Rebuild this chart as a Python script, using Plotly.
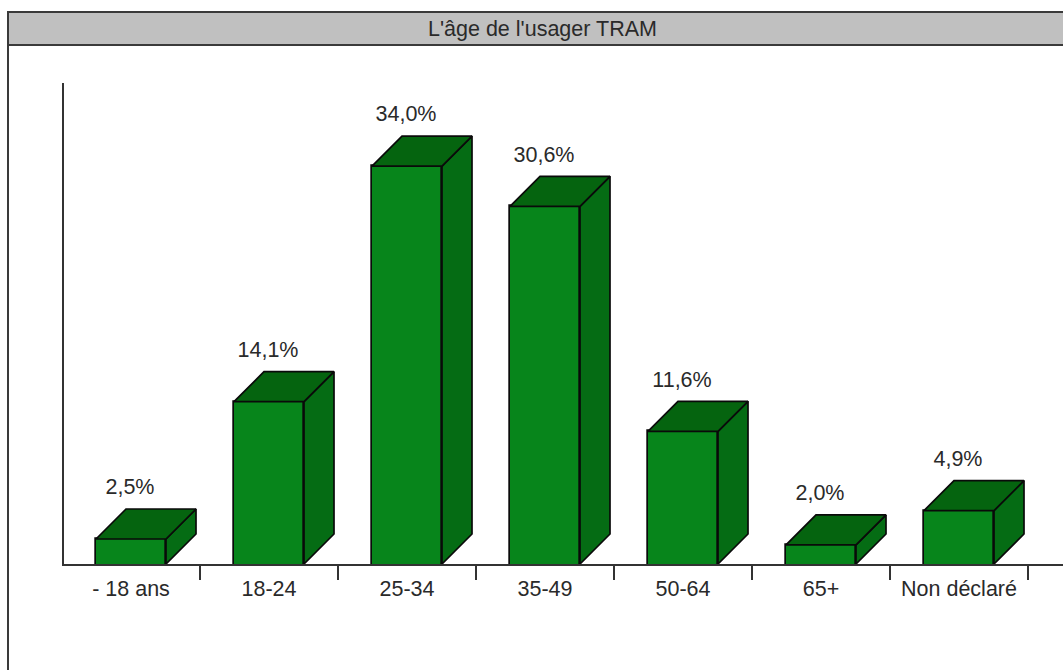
import plotly.graph_objects as go

categories = ["- 18 ans", "18-24", "25-34", "35-49", "50-64", "65+", "Non déclaré"]
values = [2.5, 14.1, 34.0, 30.6, 11.6, 2.0, 4.9]
title_text = "L'âge de l'usager TRAM"

W, H = 1063, 670
L, T, B = 64, 83, 106
CAT_PX = 138.0
Y_MIN, Y_MAX = 0.39, 41.02
PX_PER_UNIT = (H - T - B) / (Y_MAX - Y_MIN)
BAR_W = 70 / CAT_PX
DX = 30 / CAT_PX
DY = 30 / PX_PER_UNIT
LABEL_GAP = 20 / PX_PER_UNIT
LABEL_SHIFT = -1 / CAT_PX
X_MIN = -0.5 + 2 / CAT_PX
X_MAX = X_MIN + (W - L) / CAT_PX

FRONT, TOP_C, SIDE = "#07851b", "#05640f", "#056c14"
EDGE = "#0a0a0a"
INK = "#2a2a2a"
FONT = "Liberation Sans"
TEXT_SIZE = 21.5

xs = list(range(len(categories)))
side_x, side_y, top_x, top_y = [], [], [], []
for i, v in zip(xs, values):
    r = i + BAR_W / 2
    l = i - BAR_W / 2
    side_x += [r, r + DX, r + DX, r, r, None]
    side_y += [Y_MIN, Y_MIN + DY, v + DY, v, Y_MIN, None]
    top_x += [l, l + DX, r + DX, r, l, None]
    top_y += [v, v + DY, v + DY, v, v, None]

fig = go.Figure()
poly = dict(mode="lines", line=dict(color=EDGE, width=1.7), fill="toself", hoverinfo="skip", showlegend=False)
fig.add_trace(go.Scatter(x=side_x, y=side_y, fillcolor=SIDE, **poly))
fig.add_trace(go.Scatter(x=top_x, y=top_y, fillcolor=TOP_C, **poly))
fig.add_trace(go.Bar(x=xs, y=values, width=BAR_W, marker=dict(color=FRONT, line=dict(color=EDGE, width=1.7)),
                     showlegend=False, hoverinfo="x+y"))
fig.add_trace(go.Scatter(
    x=[i + LABEL_SHIFT for i in xs], y=[v + DY + LABEL_GAP for v in values],
    text=[f"{v:.1f}%".replace(".", ",") for v in values],
    mode="text", textposition="middle center",
    textfont=dict(family=FONT, size=TEXT_SIZE, color=INK), showlegend=False, hoverinfo="skip"))
# carrier trace for the label axis
fig.add_trace(go.Scatter(x=xs, y=values, xaxis="x2", mode="markers", marker=dict(opacity=0),
                         showlegend=False, hoverinfo="skip"))

fig.update_layout(
    width=W, height=H,
    margin=dict(l=L, r=0, t=T, b=B, pad=0),
    paper_bgcolor="white", plot_bgcolor="white",
    bargap=0,
    xaxis=dict(range=[X_MIN, X_MAX], tickmode="array", tickvals=[i + 0.5 for i in xs],
               ticktext=[""] * len(xs), ticks="outside", ticklen=14, tickwidth=1.5, tickcolor="#333333",
               showgrid=False, zeroline=False, showline=True, linecolor="#333333", linewidth=1.5),
    xaxis2=dict(range=[X_MIN, X_MAX], overlaying="x", side="bottom", anchor="y", tickmode="array",
                tickvals=xs, ticktext=categories, ticks="outside", ticklen=5, tickcolor="rgba(0,0,0,0)",
                tickfont=dict(family=FONT, size=TEXT_SIZE, color=INK), showgrid=False, zeroline=False, showline=False),
    yaxis=dict(range=[Y_MIN, Y_MAX], showticklabels=False, ticks="", showgrid=False, zeroline=False,
               showline=True, linecolor="#333333", linewidth=1.5),
    shapes=[
        dict(type="rect", xref="paper", yref="paper",
             x0=(8 - L) / (W - L), x1=1.01, y0=(H - B - 45) / (H - T - B), y1=(H - B - 12) / (H - T - B),
             fillcolor="#c0c0c0", line=dict(color="#3a3a3a", width=2)),
        dict(type="line", xref="paper", yref="paper",
             x0=(8 - L) / (W - L), x1=(8 - L) / (W - L), y0=(H - B - H - 5) / (H - T - B), y1=(H - B - 12) / (H - T - B),
             line=dict(color="#3a3a3a", width=2)),
    ],
    annotations=[dict(text=title_text, xref="paper", yref="paper",
                      x=(542 - L) / (W - L), y=(H - B - 29) / (H - T - B), xanchor="center", yanchor="middle",
                      showarrow=False, font=dict(family=FONT, size=TEXT_SIZE, color=INK))],
)
fig.write_html("out.html", config={"displayModeBar": False}, post_script="document.body.style.margin='0';")
